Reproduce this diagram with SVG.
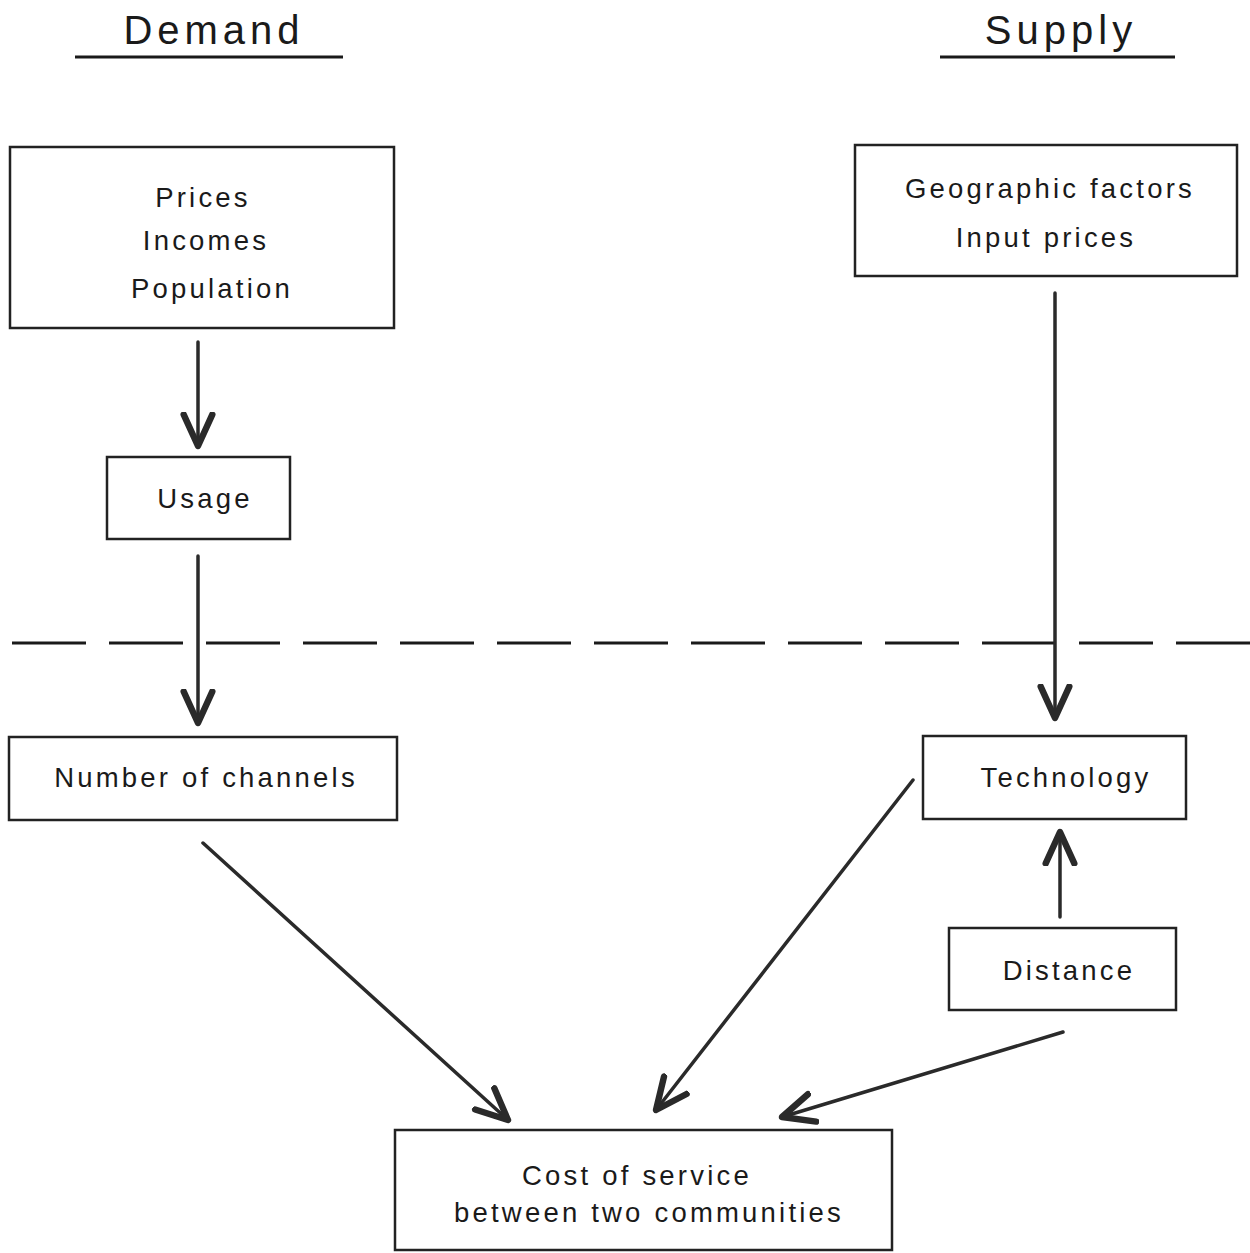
<svg xmlns="http://www.w3.org/2000/svg" width="1250" height="1253" viewBox="0 0 1250 1253">
<style>
.box{fill:none;stroke:#222;stroke-width:2.5}
.t{font-family:"Liberation Sans",Arial,sans-serif;font-size:27.5px;fill:#1a1a1a;text-anchor:middle;letter-spacing:3.2px}
.h{font-family:"Liberation Sans",Arial,sans-serif;font-size:40px;fill:#1a1a1a;text-anchor:middle;letter-spacing:5px}
.c{stroke:#2a2a2a;stroke-width:3.5;fill:none;stroke-linecap:round;marker-end:url(#ah)}
.rule{stroke:#1a1a1a;stroke-width:3}
</style>
<defs>
<marker id="ah" markerUnits="userSpaceOnUse" markerWidth="40" markerHeight="40" refX="0" refY="0" viewBox="-24 -14 28 28" orient="auto">
<path d="M-22,-10 L0,0 L-22,10" fill="none" stroke="#2a2a2a" stroke-width="4.5" stroke-linecap="round" stroke-linejoin="round"/>
</marker>
</defs>
<rect width="1250" height="1253" fill="#fff"/>
<g id="headings">
<text class="h" x="214" y="44">Demand</text>
<line class="rule" x1="75" y1="57" x2="343" y2="57"/>
<text class="h" x="1061" y="44">Supply</text>
<line class="rule" x1="940" y1="57" x2="1175" y2="57"/>
</g>
<g id="divider">
<line x1="12" y1="643" x2="1250" y2="643" stroke="#1a1a1a" stroke-width="3" stroke-dasharray="74 23"/>
</g>
<g id="demand-factors">
<rect class="box" x="10" y="147" width="384" height="181"/>
<text class="t" x="203" y="207">Prices</text>
<text class="t" x="206" y="250">Incomes</text>
<text class="t" x="212" y="298">Population</text>
</g>
<g id="supply-factors">
<rect class="box" x="855" y="145" width="382" height="131"/>
<text class="t" x="1050" y="198">Geographic factors</text>
<text class="t" x="1046" y="247">Input prices</text>
</g>
<g id="usage">
<rect class="box" x="107" y="457" width="183" height="82"/>
<text class="t" x="205" y="508">Usage</text>
</g>
<g id="channels">
<rect class="box" x="9" y="737" width="388" height="83"/>
<text class="t" x="206" y="787">Number of channels</text>
</g>
<g id="technology">
<rect class="box" x="923" y="736" width="263" height="83"/>
<text class="t" x="1066" y="787">Technology</text>
</g>
<g id="distance">
<rect class="box" x="949" y="928" width="227" height="82"/>
<text class="t" x="1069" y="980">Distance</text>
</g>
<g id="cost">
<rect class="box" x="395" y="1130" width="497" height="120"/>
<text class="t" x="637" y="1185">Cost of service</text>
<text class="t" x="649" y="1222">between two communities</text>
</g>
<g id="connectors">
<line class="c" x1="198" y1="342" x2="198" y2="446"/>
<line class="c" x1="198" y1="556" x2="198" y2="723"/>
<line class="c" x1="1055" y1="293" x2="1055" y2="718"/>
<line class="c" x1="1060" y1="917" x2="1060" y2="832"/>
<line class="c" x1="203" y1="843" x2="508" y2="1120"/>
<line class="c" x1="913" y1="780" x2="656" y2="1110"/>
<line class="c" x1="1063" y1="1032" x2="782" y2="1117"/>
</g>
</svg>
